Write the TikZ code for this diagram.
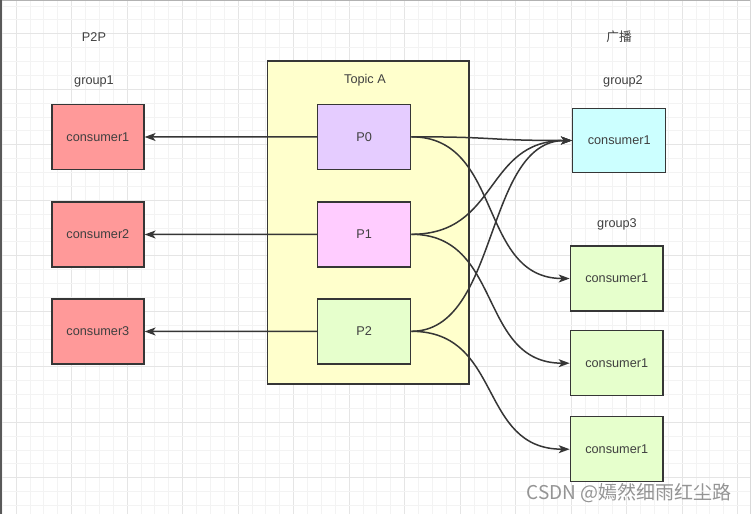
\documentclass[tikz,border=0pt]{standalone}
\usepackage{fontspec}
\setmainfont{Liberation Sans}
\newfontfamily\cjk{Noto Sans CJK SC}
\usetikzlibrary{arrows.meta}
\definecolor{edgec}{HTML}{363636}
\definecolor{txtc}{HTML}{404040}
\definecolor{redf}{HTML}{FF9999}
\definecolor{topicf}{HTML}{FFFFCC}
\definecolor{pzf}{HTML}{E5CCFF}
\definecolor{pof}{HTML}{FFCCFF}
\definecolor{greenf}{HTML}{E6FFCC}
\definecolor{cyanf}{HTML}{CCFFFF}
\definecolor{gridminor}{HTML}{F3F3F3}
\definecolor{gridmajor}{HTML}{E5E5E5}
\tikzset{
  box/.style={draw=edgec, line width=1.4pt, minimum width=93pt, minimum height=65pt, inner sep=0pt, font=\fontsize{12.7}{14}\selectfont, text=txtc},
  lbl/.style={font=\fontsize{12.7}{14}\selectfont, text=txtc, inner sep=0pt},
  conn/.style={draw=edgec, line width=1.5pt, -{Stealth[length=11pt,width=8pt,inset=3pt]}},
}
\begin{document}
\begin{tikzpicture}[x=1pt,y=-1pt]
\useasboundingbox (0,0) rectangle (751,514);
\fill[white] (0,0) rectangle (751,514);
% grid
\foreach \k in {-5,...,49} {
  \pgfmathsetmacro{\gx}{71.67+\k*13.875}
  \pgfmathtruncatemacro{\mj}{mod(\k+100,4)}
  \ifnum\mj=0
    \draw[gridmajor, line width=0.9pt] (\gx,0) -- (\gx,514);
  \else
    \draw[gridminor, line width=0.9pt] (\gx,0) -- (\gx,514);
  \fi
}
\foreach \k in {-31,...,7} {
  \pgfmathsetmacro{\gy}{422.3+\k*13.875}
  \pgfmathtruncatemacro{\mj}{mod(\k+100,4)}
  \ifnum\mj=0
    \draw[gridmajor, line width=0.9pt] (0,\gy) -- (751,\gy);
  \else
    \draw[gridminor, line width=0.9pt] (0,\gy) -- (751,\gy);
  \fi
}
\draw[gray!60, line width=1pt] (0,0.5) -- (751,0.5);
\draw[gray!30, line width=1pt] (750.5,0) -- (750.5,514);
\draw[black!65, line width=1.5pt] (0.75,0) -- (0.75,514);

% labels
\node[lbl] (p2p) at (94,37) {P2P};
\node[lbl] (g1) at (94,81) {group1};
\node[lbl] (bc) at (619,37) {\cjk 广播};
\node[lbl] (g2) at (623,81) {group2};
\node[lbl] (g3) at (617,224) {group3};

% topic container
\node[box, fill=topicf, minimum width=201.7pt, minimum height=323pt] (topic) at (368.2,222.5) {};
\node[lbl] (topicl) at (365,80) {Topic A};

% partitions
\node[box, fill=pzf] (p0) at (364.2,136.8) {P0};
\node[box, fill=pof] (p1) at (364.2,234.3) {P1};
\node[box, fill=greenf] (p2) at (364.2,331.3) {P2};

% group1
\node[box, fill=redf, minimum width=92pt] (c1) at (97.9,137) {consumer1};
\node[box, fill=redf, minimum width=92pt] (c2) at (97.9,234.5) {consumer2};
\node[box, fill=redf, minimum width=92pt] (c3) at (97.9,331.5) {consumer3};

% group2
\node[box, fill=cyanf, minimum height=64.4pt] (b1) at (619.2,140.5) {consumer1};

% group3
\node[box, fill=greenf, minimum width=92.7pt] (d1) at (616.7,278.5) {consumer1};
\node[box, fill=greenf, minimum width=92.7pt] (d2) at (616.7,363.2) {consumer1};
\node[box, fill=greenf, minimum width=92.7pt] (d3) at (616.7,449.2) {consumer1};

% straight edges
\draw[conn] (p0.west) -- (c1.east);
\draw[conn] (p1.west) -- (c2.east);
\draw[conn] (p2.west) -- (c3.east);

% curved edges
\draw[conn] (p0.east) .. controls +(90,0) and +(-90,0) .. (b1.west);
\draw[conn] (p1.east) .. controls +(88,0) and +(-88,0) .. (b1.west);
\draw[conn] (p2.east) .. controls +(88,0) and +(-88,0) .. (b1.west);
\draw[conn] (p0.east) .. controls +(92,0) and +(-92,0) .. (d1.west);
\draw[conn] (p1.east) .. controls +(92,0) and +(-92,0) .. (d2.west);
\draw[conn] (p2.east) .. controls +(92,0) and +(-92,0) .. (d3.west);

% watermark
\node[inner sep=0pt, font=\cjk\fontsize{19}{21}\selectfont, text=black!42] (wm) at (629,493.5) {CSDN @嫣然细雨红尘路};
\end{tikzpicture}
\end{document}
